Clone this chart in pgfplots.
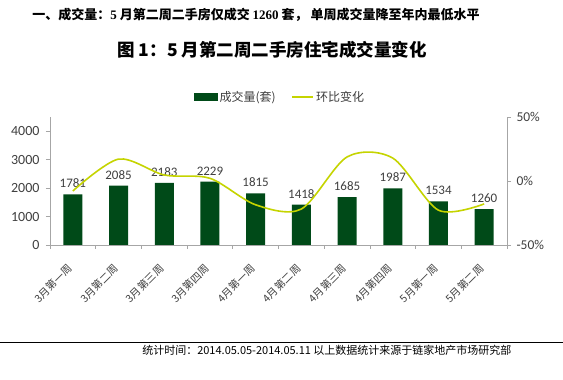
\documentclass[border=0pt]{standalone}
\usepackage{pgfplots}
\usepackage{pgfplotstable}
\pgfplotsset{compat=1.18}
\usepackage{fontspec}
\setmainfont{Carlito}
\newfontfamily\cjk{Noto Sans CJK SC}
\newfontfamily\serifnum{Liberation Serif}
\definecolor{bargreen}{HTML}{004A18}
\definecolor{linegreen}{HTML}{C5D400}
\definecolor{axgray}{HTML}{A6A6A6}
\definecolor{txt}{HTML}{404040}

\pgfplotstableread{
x vol chg
0 1781 -7.8
1 2085 17.1
2 2183 4.7
3 2229 2.1
4 1815 -18.6
5 1418 -21.9
6 1685 18.8
7 1987 17.9
8 1534 -22.8
9 1260 -17.9
}\datatable

\begin{document}
\begin{tikzpicture}[x=1pt,y=1pt]
\useasboundingbox (0,0) rectangle (563,380);
\fill[white] (0,0) rectangle (563,380);
\node[font=\cjk\bfseries\fontsize{13}{15}\selectfont] at (256,365) {一、成交量：{\serifnum 5} 月第二周二手房仅成交 {\serifnum 1260} 套， 单周成交量降至年内最低水平};
\node[font=\cjk\bfseries\fontsize{17.5}{20}\selectfont] at (272,330) {图 1：5 月第二周二手房住宅成交量变化};
\draw[black, line width=1pt] (0,37) -- (563,37);
\node[anchor=east, font=\cjk\fontsize{11}{13}\selectfont] at (515,29.5) {统计时间：2014.05.05-2014.05.11 以上数据统计来源于链家地产市场研究部};

\begin{axis}[
  at={(50pt,135pt)}, anchor=south west, scale only axis,
  width=457pt, height=128pt,
  xmin=-0.5, xmax=9.5, ymin=0, ymax=4500,
  axis x line*=bottom, axis y line*=left,
  axis line style={axgray, line width=0.8pt, -},
  ytick={0,1000,...,4000},
  xtick={0,...,9},
  xticklabels={3月第一周,3月第二周,3月第三周,3月第四周,4月第一周,4月第二周,4月第三周,4月第四周,5月第一周,5月第二周},
  major x tick style={draw=none},
  minor xtick={-0.5,0.5,...,9.5},
  minor tick length=4pt, major tick length=4pt,
  tick align=outside,
  tick style={axgray, line width=0.8pt},
  x tick label style={font=\cjk\fontsize{10.5}{12}\selectfont, rotate=45, anchor=east, text=txt},
  xticklabel shift=15pt,
  y tick label style={font=\fontsize{14}{16}\selectfont, text=txt, xshift=-3pt},
  /pgf/number format/1000 sep={},
  /pgf/number format/assume math mode=true,
  legend columns=2,
  legend style={draw=none, fill=none, at={(axis description cs:0.503,1.156)}, anchor=center,
    font=\cjk\fontsize{12}{14}\selectfont, text=txt,
    /tikz/every even column/.append style={column sep=14pt}},
]
\addplot[ybar, bar width=19pt, fill=bargreen, draw=none,
  nodes near coords,
  every node near coord/.append style={font=\fontsize{13}{15}\selectfont, text=txt, yshift=3pt},
  legend image code/.code={\fill[bargreen] (0pt,-4pt) rectangle (24pt,4pt);}]
  table[x=x,y=vol]{\datatable};
\addlegendentry{成交量(套)}
\addlegendimage{linegreen, line width=1.5pt, legend image code/.code={\draw[linegreen, line width=1.5pt] (0pt,0pt) -- (21pt,0pt);}}
\addlegendentry{环比变化}
\end{axis}

\begin{axis}[
  at={(50pt,135pt)}, anchor=south west, scale only axis,
  width=457pt, height=128pt,
  xmin=-0.5, xmax=9.5, ymin=-50, ymax=50,
  axis y line*=right, axis x line=none,
  axis line style={axgray, line width=0.8pt, -},
  ytick={-50,0,50},
  yticklabel={\pgfmathprintnumber{\tick}\%},
  tick align=outside, major tick length=4pt,
  tick style={axgray, line width=0.8pt},
  y tick label style={font=\fontsize{13.5}{15}\selectfont, text=txt, xshift=2pt},
  /pgf/number format/assume math mode=true,
]
\addplot[linegreen, line width=1.6pt, smooth, no marks] table[x=x,y=chg]{\datatable};
\end{axis}
\end{tikzpicture}
\end{document}
